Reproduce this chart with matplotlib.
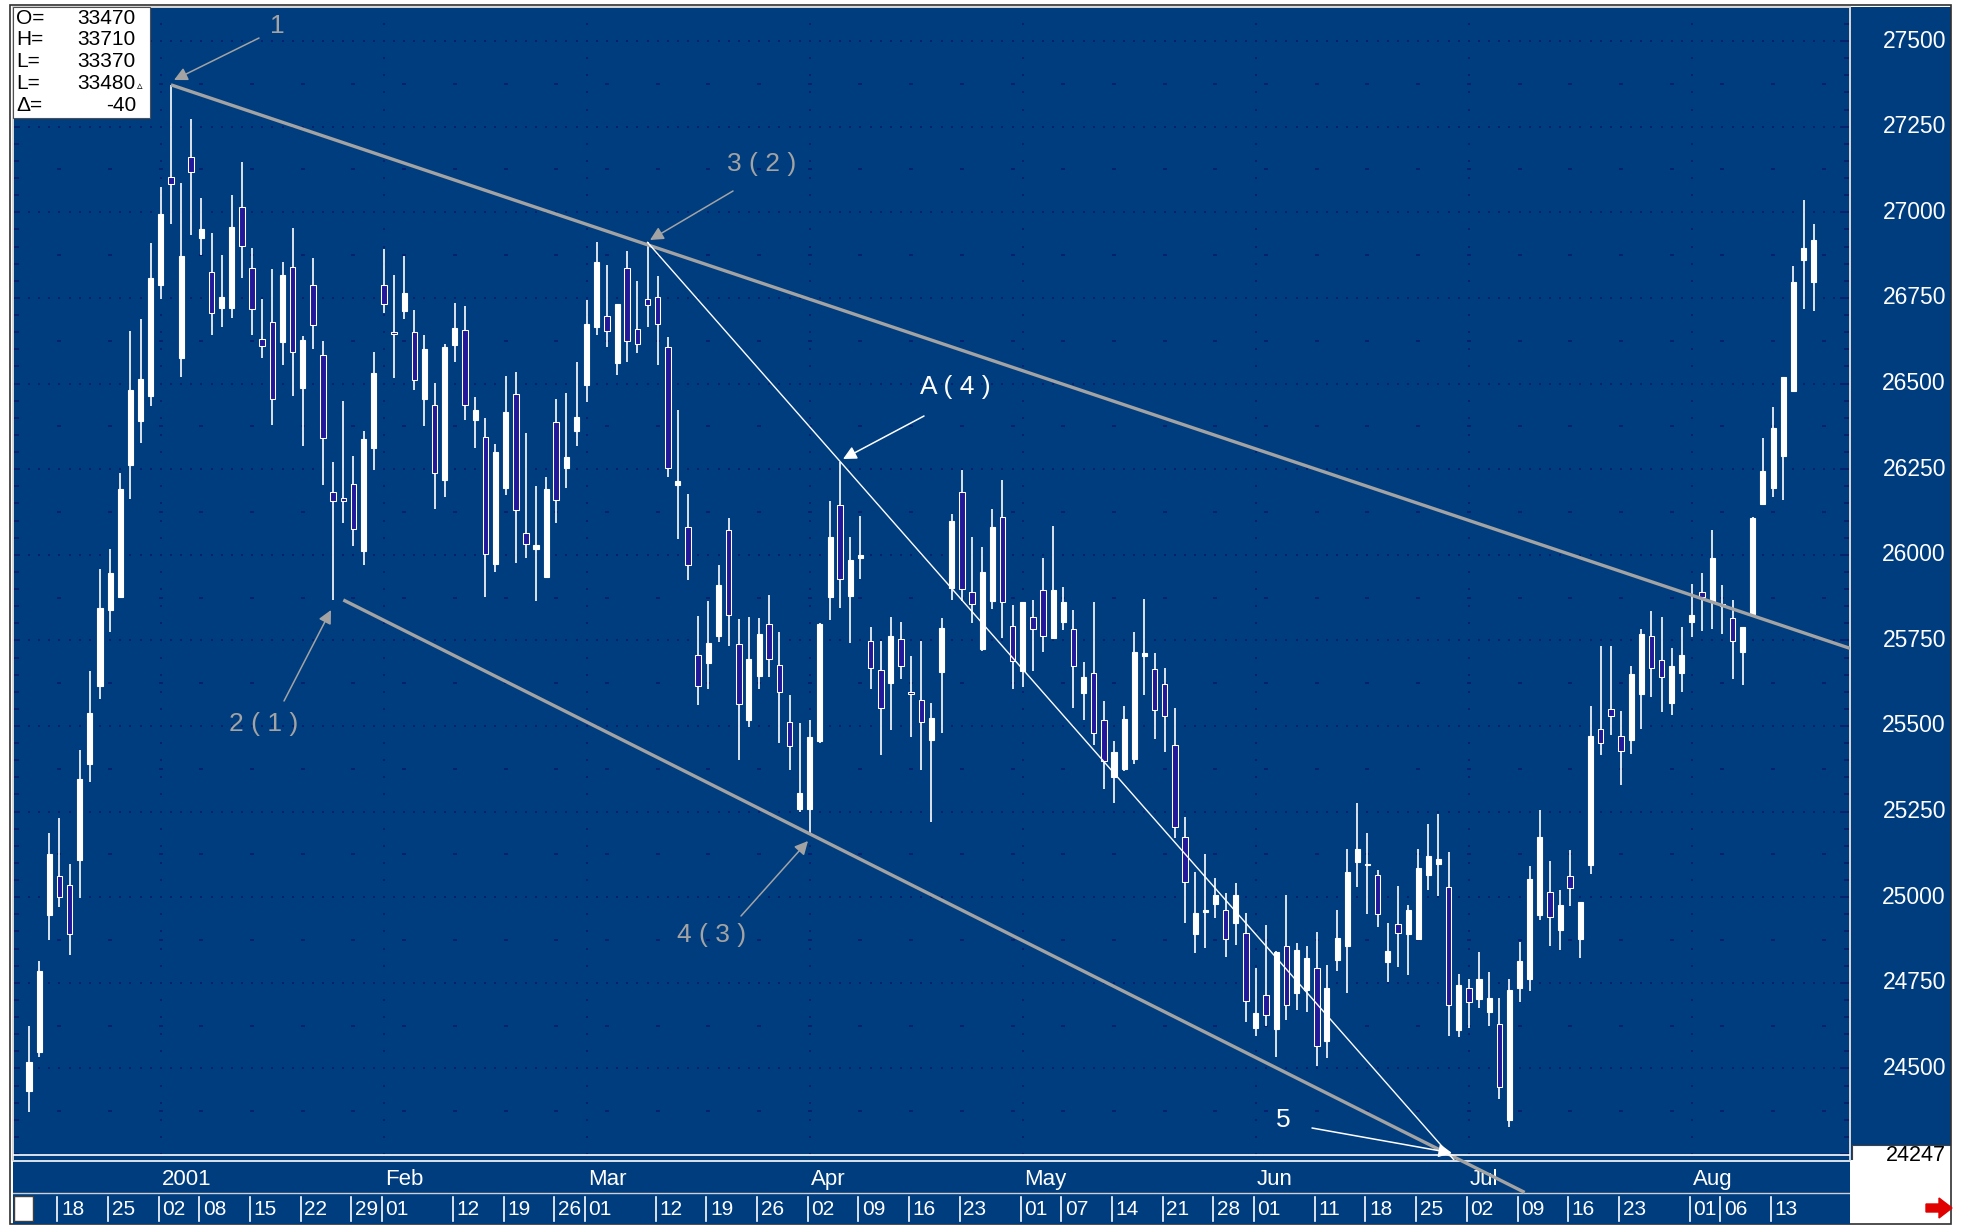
import matplotlib
matplotlib.use('Agg')
import matplotlib.pyplot as plt
import numpy as np
import pandas as pd
from matplotlib.patches import Rectangle, FancyArrow
from matplotlib.transforms import blended_transform_factory

plt.rcParams['font.family'] = ['Liberation Sans', 'DejaVu Sans']

# ---------------- data ----------------
dates = [d for d in pd.bdate_range('2000-12-13', '2001-08-17') if d != pd.Timestamp('2001-01-01')]

opens = [24435, 24549, 24949, 25061, 25035, 25110, 25388, 25618, 25839, 25878,
         26262, 26390, 26463, 26789, 27102, 26573, 27161, 26925, 26827, 26719,
         26720, 27014, 26837, 26630, 26681, 26622, 26841, 26488, 26789, 26583,
         26183, 26167, 26207, 26010, 26311, 26789, 26650, 26713, 26649, 26456,
         26438, 26218, 26613, 26655, 26392, 26344, 25972, 26194, 26468, 26064,
         26017, 25936, 26387, 26253, 26362, 26496, 26664, 26696, 26560, 26837,
         26660, 26748, 26753, 26606, 26205, 26082, 25707, 25684, 25763, 26073,
         25739, 25518, 25647, 25798, 25679, 25513, 25258, 25258, 25457, 25878,
         26146, 25880, 25990, 25747, 25663, 25627, 25754, 25598, 25576, 25460,
         25657, 25902, 26182, 25892, 25725, 25866, 26109, 25793, 25661, 25817,
         25897, 25757, 25805, 25783, 25595, 25655, 25518, 25350, 25375, 25403,
         25705, 25667, 25623, 25445, 25176, 24892, 24957, 24980, 24963, 24925,
         24897, 24619, 24716, 24616, 24859, 24719, 24728, 24794, 24580, 24817,
         24857, 25103, 25093, 25065, 24810, 24922, 24892, 24877, 25065, 25098,
         25031, 24611, 24734, 24704, 24665, 24629, 24350, 24734, 24762, 24948,
         25014, 24904, 25061, 24877, 25093, 25492, 25550, 25470, 25460, 25592,
         25762, 25692, 25566, 25656, 25805, 25890, 25863, 25850, 25816, 25716,
         25828, 26147, 26194, 26288, 26478, 26860, 26796]
highs = [24624, 24815, 25189, 25232, 25096, 25429, 25661, 25957, 26018, 26238,
         26652, 26689, 26911, 27075, 27372, 27085, 27272, 27043, 26939, 26876,
         27049, 27148, 26896, 26748, 26833, 26856, 26955, 26640, 26866, 26624,
         26272, 26449, 26287, 26360, 26591, 26893, 26818, 26873, 26714, 26641,
         26501, 26616, 26734, 26725, 26462, 26398, 26324, 26522, 26533, 26356,
         26201, 26227, 26454, 26473, 26563, 26744, 26913, 26845, 26731, 26888,
         26800, 26912, 26815, 26636, 26423, 26177, 25822, 25866, 25970, 26106,
         25812, 25819, 25814, 25882, 25773, 25591, 25508, 25517, 25802, 26158,
         26272, 26051, 26114, 25790, 25749, 25819, 25804, 25705, 25749, 25566,
         25814, 26119, 26248, 26051, 26024, 26133, 26218, 25853, 25863, 25869,
         25990, 26085, 25907, 25838, 25686, 25863, 25574, 25455, 25559, 25775,
         25870, 25712, 25669, 25554, 25234, 25075, 25126, 25056, 25013, 25041,
         24953, 24792, 24919, 24844, 25008, 24865, 24859, 24899, 24802, 24963,
         25141, 25274, 25189, 25081, 24924, 25033, 24978, 25142, 25214, 25244,
         25131, 24775, 24762, 24840, 24783, 24707, 24762, 24868, 25090, 25256,
         25106, 25022, 25137, 24987, 25557, 25734, 25734, 25545, 25674, 25784,
         25837, 25819, 25727, 25789, 25916, 25947, 26072, 25911, 25869, 25789,
         26111, 26341, 26430, 26518, 26842, 27037, 26966]
lows = [24372, 24533, 24874, 24972, 24831, 24998, 25337, 25579, 25774, 25878,
        26163, 26325, 26435, 26748, 26965, 26518, 26935, 26876, 26642, 26665,
        26691, 26807, 26642, 26573, 26380, 26553, 26463, 26317, 26600, 26203,
        25868, 26094, 26026, 25970, 26246, 26706, 26515, 26688, 26481, 26376,
        26134, 26169, 26563, 26392, 26313, 25878, 25951, 26175, 25975, 25990,
        25866, 25936, 26094, 26194, 26317, 26446, 26641, 26608, 26524, 26563,
        26589, 26664, 26554, 26227, 26046, 25927, 25561, 25609, 25746, 25735,
        25400, 25498, 25608, 25642, 25449, 25372, 25248, 25185, 25449, 25810,
        25844, 25741, 25929, 25608, 25416, 25489, 25637, 25469, 25372, 25219,
        25479, 25869, 25866, 25800, 25720, 25843, 25756, 25608, 25613, 25661,
        25717, 25757, 25780, 25554, 25518, 25444, 25317, 25276, 25370, 25388,
        25591, 25462, 25423, 25174, 24924, 24837, 24852, 24940, 24825, 24862,
        24636, 24594, 24624, 24535, 24641, 24671, 24666, 24507, 24530, 24784,
        24719, 25031, 24951, 24912, 24753, 24797, 24774, 24877, 25020, 25005,
        24596, 24591, 24619, 24677, 24624, 24412, 24330, 24695, 24725, 24934,
        24859, 24845, 24975, 24822, 25067, 25415, 25474, 25329, 25417, 25492,
        25585, 25541, 25532, 25598, 25761, 25778, 25784, 25770, 25637, 25621,
        25828, 26147, 26168, 26159, 26478, 26717, 26713]
closes = [24520, 24785, 25126, 25002, 24894, 25345, 25537, 25844, 25947, 26193,
          26482, 26512, 26807, 26994, 27083, 26872, 27118, 26951, 26705, 26754,
          26957, 26902, 26718, 26610, 26455, 26817, 26591, 26626, 26671, 26341,
          26157, 26157, 26075, 26337, 26531, 26733, 26645, 26763, 26510, 26602,
          26238, 26608, 26662, 26438, 26423, 26003, 26300, 26417, 26131, 26031,
          26028, 26191, 26160, 26285, 26403, 26675, 26854, 26653, 26731, 26625,
          26616, 26729, 26673, 26254, 26215, 25970, 25617, 25742, 25911, 25824,
          25563, 25695, 25768, 25697, 25598, 25441, 25304, 25467, 25798, 26053,
          25929, 25984, 25998, 25668, 25554, 25764, 25674, 25593, 25511, 25522,
          25785, 26099, 25900, 25856, 25951, 26080, 25861, 25689, 25863, 25783,
          25762, 25897, 25863, 25674, 25642, 25481, 25398, 25425, 25519, 25717,
          25712, 25548, 25528, 25206, 25045, 24953, 24962, 25008, 24877, 25008,
          24696, 24663, 24656, 24840, 24684, 24845, 24824, 24565, 24734, 24882,
          25075, 25141, 25098, 24951, 24844, 24897, 24963, 25085, 25120, 25111,
          24686, 24743, 24695, 24760, 24707, 24447, 24730, 24815, 25054, 25176,
          24943, 24978, 25026, 24987, 25470, 25451, 25530, 25426, 25651, 25770,
          25669, 25642, 25674, 25708, 25823, 25877, 25991, 25856, 25748, 25789,
          26108, 26244, 26371, 26518, 26796, 26896, 26920]

price_ticks = [24500, 24750, 25000, 25250, 25500, 25750, 26000, 26250, 26500, 26750, 27000, 27250, 27500]
month_starts = ['2001-01-02', '2001-02-01', '2001-03-01', '2001-04-02', '2001-05-01', '2001-06-01', '2001-07-02', '2001-08-01']
month_labels = ['2001', 'Feb', 'Mar', 'Apr', 'May', 'Jun', 'Jul', 'Aug']
day_ticks = ['2000-12-18', '2000-12-25', '2001-01-02', '2001-01-08', '2001-01-15', '2001-01-22', '2001-01-29',
             '2001-02-01', '2001-02-12', '2001-02-19', '2001-02-26', '2001-03-01', '2001-03-12', '2001-03-19',
             '2001-03-26', '2001-04-02', '2001-04-09', '2001-04-16', '2001-04-23', '2001-05-01', '2001-05-07',
             '2001-05-14', '2001-05-21', '2001-05-28', '2001-06-01', '2001-06-11', '2001-06-18', '2001-06-25',
             '2001-07-02', '2001-07-09', '2001-07-16', '2001-07-23', '2001-08-01', '2001-08-06', '2001-08-13']
week_starts = ['2000-12-18', '2000-12-25', '2001-01-02', '2001-01-08', '2001-01-15', '2001-01-22', '2001-01-29',
               '2001-02-05', '2001-02-12', '2001-02-19', '2001-02-26', '2001-03-05', '2001-03-12', '2001-03-19',
               '2001-03-26', '2001-04-02', '2001-04-09', '2001-04-16', '2001-04-23', '2001-04-30', '2001-05-07',
               '2001-05-14', '2001-05-21', '2001-05-28', '2001-06-04', '2001-06-11', '2001-06-18', '2001-06-25',
               '2001-07-02', '2001-07-09', '2001-07-16', '2001-07-23', '2001-07-30', '2001-08-06', '2001-08-13']

# wave anchor points (candle date, price)
upper_pts = (['2001-01-03', '2001-03-09'], [27372, 26905])
lower_pts = (['2001-01-26', '2001-04-02'], [25868, 25185])
thin_pts = (['2001-03-09', '2001-04-05'], [26912, 26272])
level_line = 24247
info_labels = ['O=', 'H=', 'L=', 'L=', '\u0394=']
info_values = ['33470', '33710', '33370', '33480', '-40']

# ---------------- styling ----------------
BLUE = '#003d7f'
GRID = '#06216f'
HOLLOW = '#24189a'
GRAY = '#a3a3a3'

W, H = 1973, 1226
fig = plt.figure(figsize=(W / 100, H / 100), dpi=100)
fig.patch.set_facecolor('white')


def fr(x0, y0, x1, y1):
    return [x0 / W, 1 - y1 / H, (x1 - x0) / W, (y1 - y0) / H]


PX_X0, PX_DX = 29.0, 10.14
PY_0, PY_K = 41.0, 0.3425
L, T, R, B = 13, 7, 1850, 1160
xlim = ((L - PX_X0) / PX_DX, (R - PX_X0) / PX_DX)
ylim = (27500 - (B - PY_0) / PY_K, 27500 - (T - PY_0) / PY_K)

ax = fig.add_axes(fr(L, T, R, B))
ax.set_zorder(3)
ax.set_facecolor(BLUE)
ax.set_xlim(*xlim)
ax.set_ylim(*ylim)
ax.set_xticks([])
ax.set_yticks([])
for s in ax.spines.values():
    s.set_color('#d8d8d8')
    s.set_linewidth(1.4)
ax.spines['bottom'].set_visible(False)

idx = {d.strftime('%Y-%m-%d'): i for i, d in enumerate(dates)}
n = len(dates)
x = np.arange(n)
o = np.array(opens, float)
hi = np.array(highs, float)
lo = np.array(lows, float)
c = np.array(closes, float)

# grid: dotted major rows (one dot per candle), weekly dashes on minor rows, month columns
gx = np.arange(-1, 180)
for v in price_ticks:
    ax.scatter(gx, np.full(gx.shape, v), s=2.2, marker='s', color=GRID, linewidths=0, zorder=1)
wk = np.array([idx[d] for d in week_starts] + [177])
for v in np.arange(24375, 27600, 250):
    ax.scatter(wk, np.full(wk.shape, v), s=8, marker='_', color=GRID, linewidths=1.4, zorder=1)
mv = np.arange(24250, 27600, 50)
for d in month_starts:
    ax.scatter(np.full(mv.shape, idx[d]), mv, s=2.2, marker='s', color=GRID, linewidths=0, zorder=1)
# edge ticks
for v in np.arange(24250, 27600, 50):
    big = (v % 250 == 0)
    ln = 0.9 if big else 0.5
    ax.plot([xlim[1] - ln, xlim[1]], [v, v], color=GRID, lw=1.4, zorder=1)
    ax.plot([xlim[0], xlim[0] + 0.5], [v, v], color=GRID, lw=1.4, zorder=1)

# candles
ax.vlines(x, lo, hi, color='white', lw=1.2, zorder=3)
up = c >= o
bot = np.minimum(o, c)
hgt = np.maximum(np.abs(c - o), 5)
ax.bar(x[up], hgt[up], bottom=bot[up], width=0.5, color='white', edgecolor='white', lw=0.8, zorder=4)
ax.bar(x[~up], hgt[~up], bottom=bot[~up], width=0.55, color=HOLLOW, edgecolor='white', lw=0.75, zorder=4)


def line_through(pts, x_end):
    xs = [idx[d] for d in pts[0]]
    ys = pts[1]
    k = (ys[1] - ys[0]) / (xs[1] - xs[0])
    return [xs[0], x_end], [ys[0], ys[0] + k * (x_end - xs[0])]


ux, uy = line_through(upper_pts, xlim[1])
ax.plot(ux, uy, color=GRAY, lw=2.4, zorder=5, solid_capstyle='butt')
lx, ly = line_through(lower_pts, 147.5)
ax.plot(lx, ly, color=GRAY, lw=2.4, zorder=5, clip_on=False, solid_capstyle='butt')
tx, ty = line_through(thin_pts, 141.2)
ax.plot(tx, ty, color='white', lw=1.0, zorder=5)

ax.axhline(level_line, color='white', lw=1.2, zorder=5)


def pxd(px, py):
    return ((px - PX_X0) / PX_DX, 27500 - (py - PY_0) / PY_K)


def note(txt, tpos, apos, tip, color, size=19):
    ax.text(*pxd(*tpos), txt, color=color, fontsize=size, ha='center', va='center', zorder=7)
    ax.annotate('', xy=pxd(*tip), xytext=pxd(*apos),
                arrowprops=dict(arrowstyle='-|>', color=color, lw=1.1, mutation_scale=20,
                                shrinkA=0, shrinkB=0), annotation_clip=False, zorder=7)


note('1', (277, 26), (259, 38), (174, 80), GRAY)
note('3 ( 2 )', (762, 164), (733, 191), (650, 240), GRAY)
note('A ( 4 )', (955, 387), (924, 416), (843, 459), 'white')
note('2 ( 1 )', (264, 724), (284, 701), (331, 610), GRAY)
note('4 ( 3 )', (712, 935), (741, 916), (808, 841), GRAY)
note('5', (1283, 1120), (1312, 1128), (1452, 1153), 'white')

# right price panel
axr = fig.add_axes(fr(R, T, 1951, B))
axr.set_facecolor(BLUE)
axr.set_ylim(*ylim)
axr.set_xlim(0, 1)
axr.set_xticks([])
axr.set_yticks([])
for s in axr.spines.values():
    s.set_visible(False)
tr = blended_transform_factory(axr.transAxes, axr.transData)
for v in price_ticks:
    axr.text(0.95, v, f'{v}', transform=tr, ha='right', va='center', color='white', fontsize=16.5)
axr.add_patch(Rectangle((0.02, level_line - 30), 0.98, 60, transform=tr, facecolor='white',
                        edgecolor='#404040', lw=0.8, zorder=5))
axr.text(0.95, level_line, f'{level_line}', transform=tr, ha='right', va='center', color='black',
         fontsize=15.5, zorder=6)

# bottom date strip
axb = fig.add_axes(fr(L, B, R, 1224))
axb.set_zorder(1)
axb.set_facecolor(BLUE)
axb.set_xlim(*xlim)
axb.set_ylim(0, 1)
axb.set_xticks([])
axb.set_yticks([])
for s in axb.spines.values():
    s.set_visible(False)
axb.axhline(0.98, color='white', lw=1.2)
axb.axhline(0.48, color='#d0d0d0', lw=1.0)
for d, lab in zip(month_starts, month_labels):
    axb.text(idx[d] + 0.1, 0.70, lab, color='white', fontsize=16, ha='left', va='center')
for d in day_ticks:
    i = idx[d]
    axb.plot([i - 0.2, i - 0.2], [0.05, 0.42], color='white', lw=1.2)
    axb.text(i + 0.15, 0.22, d[-2:], color='white', fontsize=15, ha='left', va='center')
axb.add_patch(Rectangle((xlim[0] + 0.1, 0.04), 1.9, 0.40, facecolor='white', edgecolor='#404040', lw=1))

# outer frame
fig.add_artist(Rectangle((10 / W, 1 - 1224 / H), (1951 - 10) / W, (1224 - 5) / H, transform=fig.transFigure,
                         fill=False, edgecolor='#303030', lw=1.2))

# info box
fig.add_artist(Rectangle((13 / W, 1 - 118 / H), 137 / W, 111 / H, transform=fig.transFigure,
                         facecolor='white', edgecolor='#505050', lw=0.8, zorder=10))
for k, (lab, val) in enumerate(zip(info_labels, info_values)):
    yy = 1 - (18 + k * 21.8) / H
    fig.text(16 / W, yy, lab, fontsize=15, color='black', ha='left', va='center', zorder=11)
    fig.text(136 / W, yy, val, fontsize=15, color='black', ha='right', va='center', zorder=11)
fig.text(137 / W, 1 - 86 / H, '\u25b5', fontsize=8, color='black', ha='left', va='center', zorder=11)

# red arrow bottom right
fig.add_artist(FancyArrow(1926 / W, 1 - 1208 / H, 26 / W, 0, width=8 / H, head_width=20 / H,
                          head_length=13 / W, length_includes_head=True, transform=fig.transFigure,
                          color='#e00000'))

fig.savefig('out.png', dpi=100, facecolor='white')
